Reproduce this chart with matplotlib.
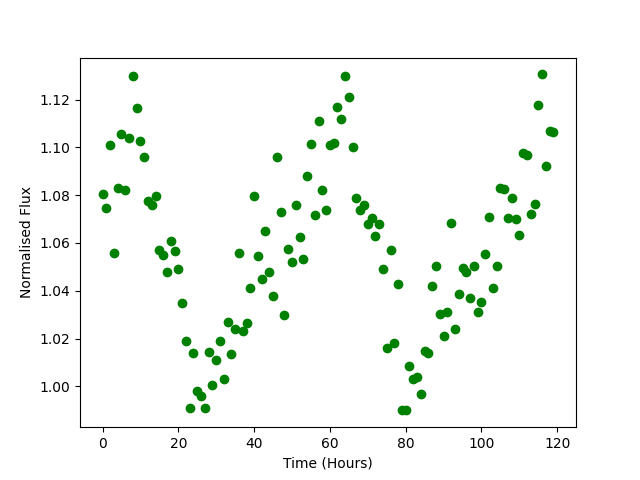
import matplotlib
matplotlib.use('Agg')
import matplotlib.pyplot as plt
import numpy as np

## time in hours, one reading per hour
time_hours = np.arange(120)

## normalised flux
flux = [
    1.0805, 1.0745, 1.101, 1.056, 1.083, 1.1055, 1.082, 1.104, 1.130, 1.1165,
    1.1025, 1.096, 1.0775, 1.076, 1.0795, 1.057, 1.055, 1.048, 1.061, 1.0565,
    1.049, 1.035, 1.019, 0.991, 1.014, 0.998, 0.996, 0.991, 1.0145, 1.0005,
    1.011, 1.019, 1.003, 1.027, 1.0135, 1.024, 1.056, 1.023, 1.0265, 1.041,
    1.0795, 1.0545, 1.045, 1.065, 1.048, 1.038, 1.096, 1.073, 1.030, 1.0575,
    1.052, 1.076, 1.0625, 1.0535, 1.088, 1.1015, 1.0715, 1.111, 1.082, 1.074,
    1.101, 1.102, 1.117, 1.112, 1.130, 1.121, 1.100, 1.079, 1.074, 1.076,
    1.068, 1.0705, 1.063, 1.068, 1.049, 1.016, 1.057, 1.018, 1.043, 0.990,
    0.990, 1.0085, 1.003, 1.004, 0.997, 1.015, 1.014, 1.042, 1.0505, 1.0305,
    1.021, 1.031, 1.0685, 1.024, 1.0385, 1.0495, 1.048, 1.037, 1.0505, 1.031,
    1.0355, 1.0555, 1.071, 1.041, 1.0505, 1.083, 1.0825, 1.0705, 1.079, 1.070,
    1.0635, 1.0975, 1.097, 1.072, 1.0765, 1.1175, 1.1305, 1.092, 1.107, 1.1065,
]

fig, ax = plt.subplots(figsize=(6.4, 4.8), dpi=100)
ax.plot(time_hours, flux, 'go')
ax.set_xlabel('Time (Hours)')
ax.set_ylabel('Normalised Flux')
fig.savefig('out.png')
